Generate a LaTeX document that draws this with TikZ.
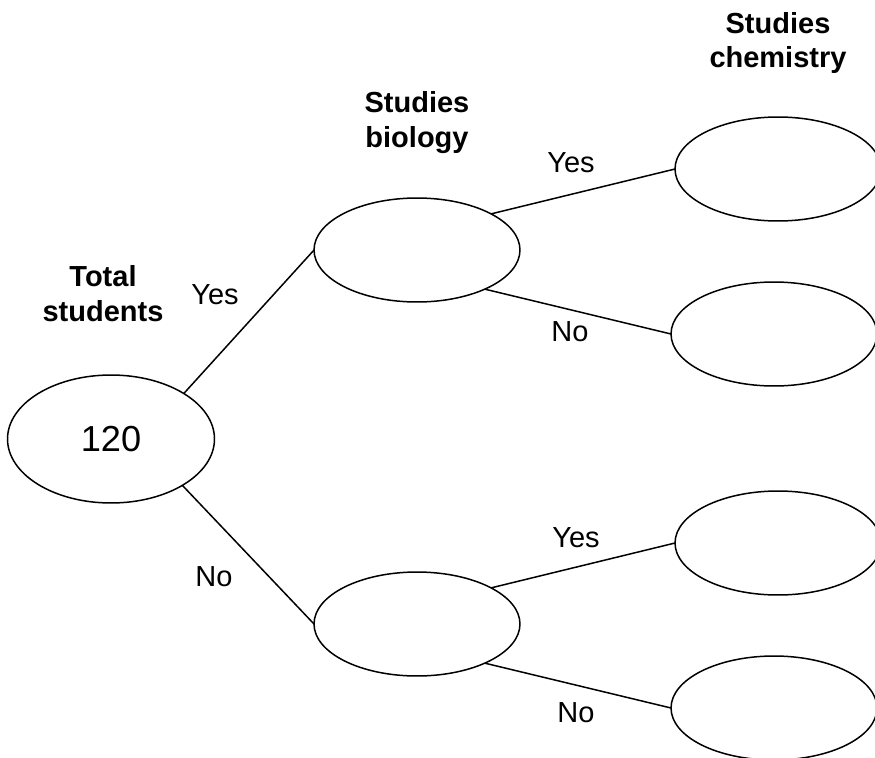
\documentclass[tikz,border=0pt]{standalone}
\usepackage{fontspec}
\setmainfont{Liberation Sans}
\usepackage{tikz}
\usetikzlibrary{shapes.geometric}
\tikzset{
	bubble/.style={
		ellipse,
		draw,
		line width=.3mm,
		minimum width=4.12cm,
		minimum height=2.08cm,
		inner sep=0,
		outer sep=0,
	},
	branch/.style={
		line width=.3mm,
	},
	heading/.style={
		align=center,
		font=\fontsize{16.5}{19.9}\selectfont\bfseries,
	},
	answer/.style={
		font=\fontsize{16.5}{19.9}\selectfont,
	}
}

\begin{document}
\begin{tikzpicture}[x=0.02cm,y=-0.02cm]
	\useasboundingbox (0,0) rectangle (875,757);
	
	\node[bubble,minimum width=4.14cm,minimum height=2.56cm,font=\fontsize{20.6}{24}\selectfont] (0) at (111,439) {120};
	\node[bubble] (1) at (417,250) {};
	\node[bubble] (2) at (417,624) {};
	\node[bubble] (11) at (778,169) {};
	\node[bubble] (12) at (774,334) {};
	\node[bubble] (21) at (778,543) {};
	\node[bubble] (22) at (774,708) {};
	
	\draw[branch] (0.32) -- (1.west);
	\draw[branch] (0.-33) -- (2.west);
	\draw[branch] (1.26) -- (11.west);
	\draw[branch] (1.-30) -- (12.west);
	\draw[branch] (2.26) -- (21.west);
	\draw[branch] (2.-30) -- (22.west);
	
	\node[heading] (total) at (103,294) {Total\\students};
	\node[heading] (biology) at (417,123) {Studies\\biology};
	\node[heading] (chemistry) at (778,43) {Studies\\chemistry};
	
	\node[answer] (y0) at (215,295) {Yes};
	\node[answer] (n0) at (214,577) {No};
	\node[answer] (y1) at (571,163) {Yes};
	\node[answer] (n1) at (570,332) {No};
	\node[answer] (y2) at (576,538) {Yes};
	\node[answer] (n2) at (576,713) {No};
	
\end{tikzpicture}
\end{document}
